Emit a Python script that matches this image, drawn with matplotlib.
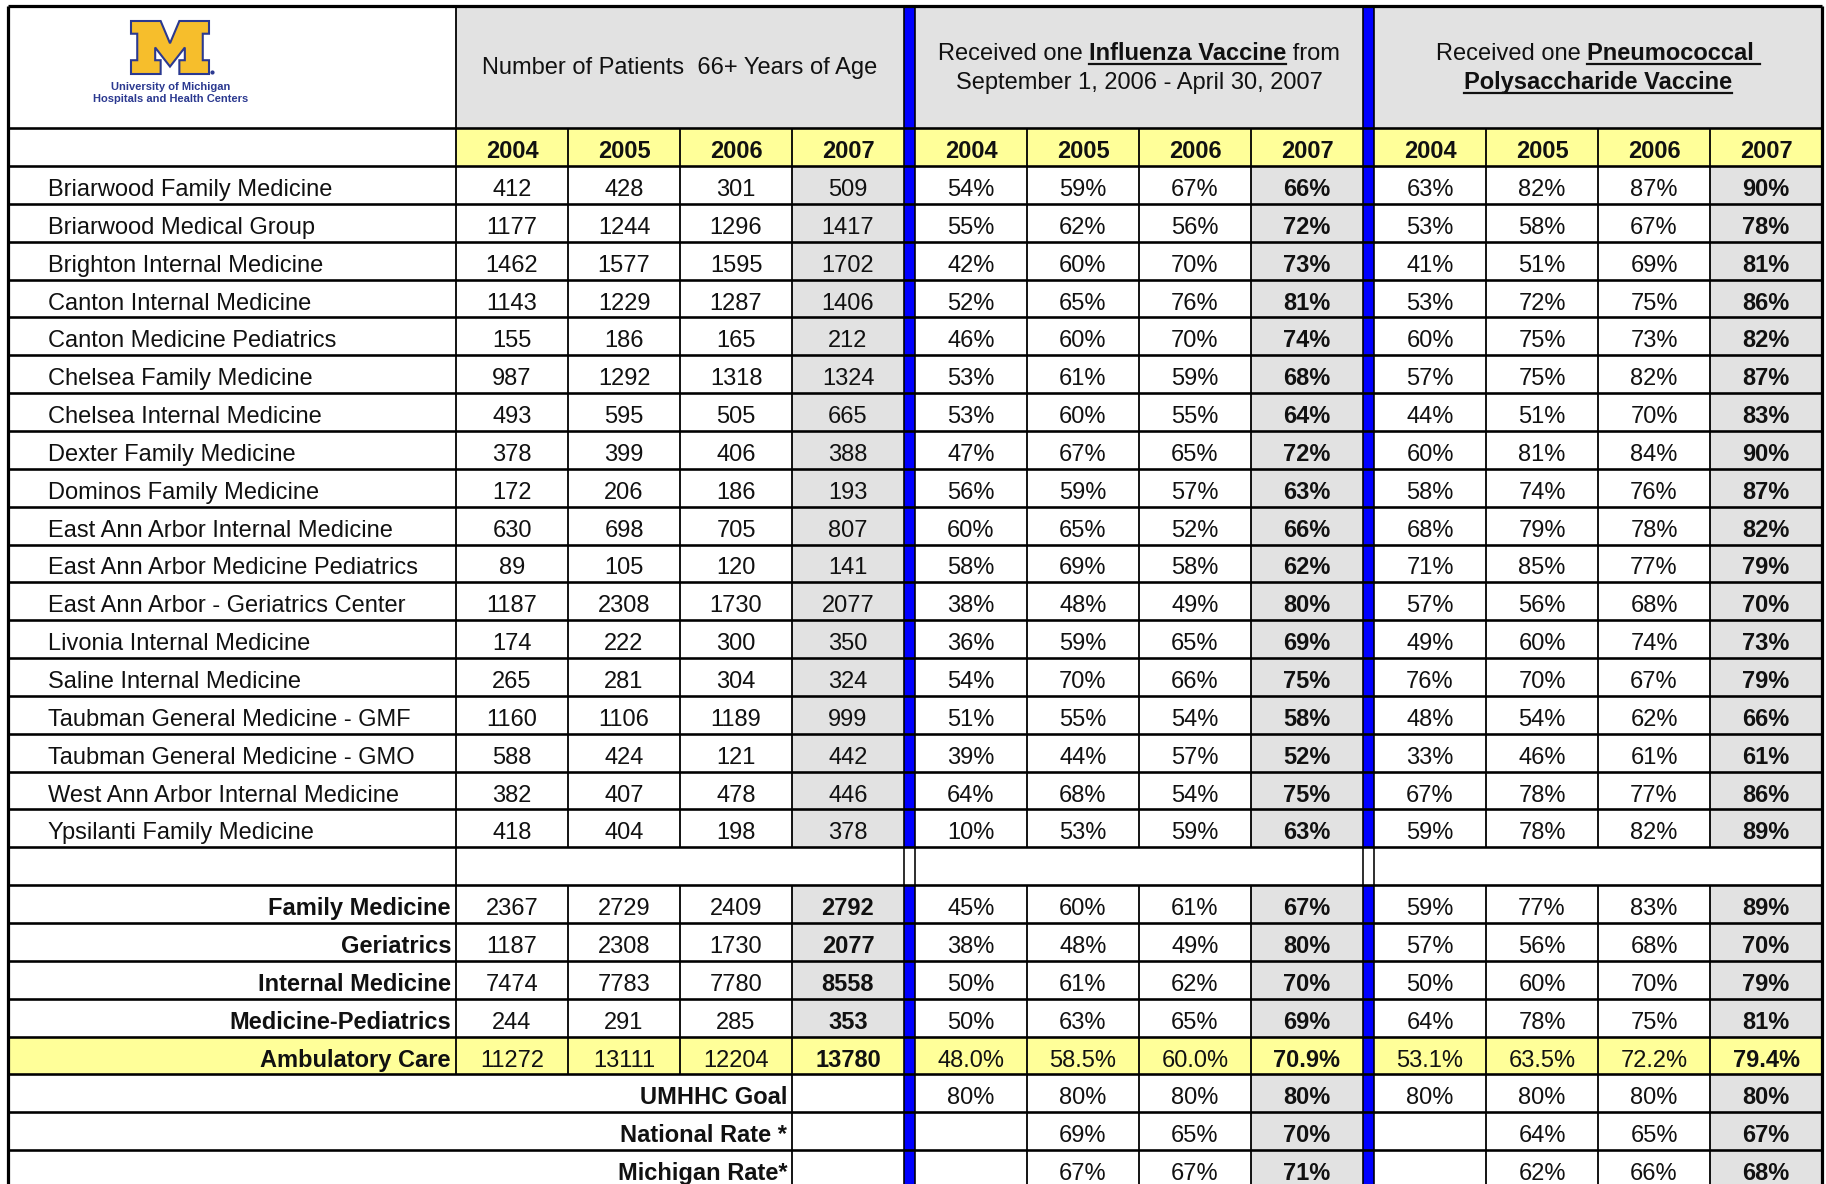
import matplotlib
matplotlib.use("Agg")
import matplotlib.pyplot as plt
from matplotlib.patches import Rectangle, Polygon

plt.rcParams['font.family'] = ['Liberation Sans', 'DejaVu Sans']

# ---------------------------
# Data
# ---------------------------
years = ["2004", "2005", "2006", "2007"]

clinics = [
    "Briarwood Family Medicine",
    "Briarwood Medical Group",
    "Brighton Internal Medicine",
    "Canton Internal Medicine",
    "Canton Medicine Pediatrics",
    "Chelsea Family Medicine",
    "Chelsea Internal Medicine",
    "Dexter Family Medicine",
    "Dominos Family Medicine",
    "East Ann Arbor Internal Medicine",
    "East Ann Arbor Medicine Pediatrics",
    "East Ann Arbor - Geriatrics Center",
    "Livonia Internal Medicine",
    "Saline Internal Medicine",
    "Taubman General Medicine - GMF",
    "Taubman General Medicine - GMO",
    "West Ann Arbor Internal Medicine",
    "Ypsilanti Family Medicine",
]

patients = [
    [412, 428, 301, 509], [1177, 1244, 1296, 1417], [1462, 1577, 1595, 1702],
    [1143, 1229, 1287, 1406], [155, 186, 165, 212], [987, 1292, 1318, 1324],
    [493, 595, 505, 665], [378, 399, 406, 388], [172, 206, 186, 193],
    [630, 698, 705, 807], [89, 105, 120, 141], [1187, 2308, 1730, 2077],
    [174, 222, 300, 350], [265, 281, 304, 324], [1160, 1106, 1189, 999],
    [588, 424, 121, 442], [382, 407, 478, 446], [418, 404, 198, 378],
]

flu = [
    [54, 59, 67, 66], [55, 62, 56, 72], [42, 60, 70, 73], [52, 65, 76, 81],
    [46, 60, 70, 74], [53, 61, 59, 68], [53, 60, 55, 64], [47, 67, 65, 72],
    [56, 59, 57, 63], [60, 65, 52, 66], [58, 69, 58, 62], [38, 48, 49, 80],
    [36, 59, 65, 69], [54, 70, 66, 75], [51, 55, 54, 58], [39, 44, 57, 52],
    [64, 68, 54, 75], [10, 53, 59, 63],
]

pneumo = [
    [63, 82, 87, 90], [53, 58, 67, 78], [41, 51, 69, 81], [53, 72, 75, 86],
    [60, 75, 73, 82], [57, 75, 82, 87], [44, 51, 70, 83], [60, 81, 84, 90],
    [58, 74, 76, 87], [68, 79, 78, 82], [71, 85, 77, 79], [57, 56, 68, 70],
    [49, 60, 74, 73], [76, 70, 67, 79], [48, 54, 62, 66], [33, 46, 61, 61],
    [67, 78, 77, 86], [59, 78, 82, 89],
]

groups = ["Family Medicine", "Geriatrics", "Internal Medicine", "Medicine-Pediatrics"]
group_patients = [[2367, 2729, 2409, 2792], [1187, 2308, 1730, 2077],
                  [7474, 7783, 7780, 8558], [244, 291, 285, 353]]
group_flu = [[45, 60, 61, 67], [38, 48, 49, 80], [50, 61, 62, 70], [50, 63, 65, 69]]
group_pneumo = [[59, 77, 83, 89], [57, 56, 68, 70], [50, 60, 70, 79], [64, 78, 75, 81]]

total_label = "Ambulatory Care"
total_patients = [11272, 13111, 12204, 13780]
total_flu = [48.0, 58.5, 60.0, 70.9]
total_pneumo = [53.1, 63.5, 72.2, 79.4]

bench_labels = ["UMHHC Goal", "National Rate *", "Michigan Rate*"]
bench_flu = [[80, 80, 80, 80], [None, 69, 65, 70], [None, 67, 67, 71]]
bench_pneumo = [[80, 80, 80, 80], [None, 64, 65, 67], [None, 62, 66, 68]]

# ---------------------------
# Layout
# ---------------------------
W, H = 1826, 1184
fig = plt.figure(figsize=(W / 100, H / 100), dpi=100)
ax = fig.add_axes([0, 0, 1, 1])
ax.set_xlim(0, W)
ax.set_ylim(H, 0)
ax.axis("off")

FS = 17
TXT = "#111111"
GRAY = "#E2E2E2"
YELLOW = "#FFFF99"
BLUE = "#0000FF"
NAVY = "#2B3990"
PX = 72 / 100  # points per pixel

X_L, X_LAB, CW, BW = 7.5, 456, 112, 11
blocks = [X_LAB, X_LAB + 4 * CW + BW, X_LAB + 8 * CW + 2 * BW]
X_R = blocks[2] + 4 * CW
bars = [blocks[0] + 4 * CW, blocks[1] + 4 * CW]
Y_T, Y_H, Y_Y, RH = 5.5, 127.7, 166, 37.85
N_ROWS = 27
GAP = 18
BOT = H + 5


def row_top(i):
    return Y_Y + i * RH


def fill(x0, x1, y0, y1, color):
    ax.add_patch(Rectangle((x0, y0), x1 - x0, y1 - y0, facecolor=color,
                           edgecolor="none", zorder=1))


def put(x, y, s, bold=False, ha="center", size=FS, color=TXT):
    ax.text(x, y, s, ha=ha, va="baseline", fontsize=size, color=color,
            fontweight="bold" if bold else "normal", zorder=5)


def cell(b, c, i, s, bold=False):
    put(blocks[b] + (c + 0.5) * CW, row_top(i) + 30, s, bold)


# fills
fill(X_LAB, X_R, Y_T, Y_H, GRAY)
fill(X_LAB, X_R, Y_H, Y_Y, YELLOW)
for i in list(range(GAP)) + list(range(GAP + 1, GAP + 5)):
    for b in range(3):
        fill(blocks[b] + 3 * CW, blocks[b] + 4 * CW, row_top(i), row_top(i + 1), GRAY)
fill(X_L, X_R, row_top(23), row_top(24), YELLOW)
for i in range(24, N_ROWS):
    for b in (1, 2):
        fill(blocks[b] + 3 * CW, blocks[b] + 4 * CW, row_top(i), min(row_top(i + 1), BOT), GRAY)

# blue separators
for bx in bars:
    ax.add_patch(Rectangle((bx, Y_T), BW, row_top(GAP) - Y_T, facecolor=BLUE,
                           edgecolor="none", zorder=2))
    ax.add_patch(Rectangle((bx, row_top(GAP + 1)), BW, BOT - row_top(GAP + 1),
                           facecolor=BLUE, edgecolor="none", zorder=2))
    ax.vlines([bx, bx + BW], Y_T, BOT, color="k", lw=1.6 * PX, zorder=3)

# grid lines
hl = [Y_H, Y_Y] + [row_top(i) for i in range(1, N_ROWS)]
ax.hlines(hl, X_L, X_R, color="k", lw=2.6 * PX, zorder=3)
ax.hlines(Y_T, X_L, X_R, color="k", lw=3.2 * PX, zorder=3)
ax.vlines([X_L, X_R], Y_T, BOT, color="k", lw=3.2 * PX, zorder=3)
ax.vlines(X_LAB, Y_T, row_top(24), color="k", lw=1.8 * PX, zorder=3)
for b in range(3):
    for c in (1, 2, 3):
        x = blocks[b] + c * CW
        ax.vlines(x, Y_H, row_top(GAP), color="k", lw=1.8 * PX, zorder=3)
        end = row_top(24) if (b == 0 and c < 3) else BOT
        ax.vlines(x, row_top(GAP + 1), end, color="k", lw=1.8 * PX, zorder=3)

# ---------------------------
# Logo
# ---------------------------
m_shape = [(0, 0), (0.38, 0), (0.5, 0.42), (0.62, 0), (1, 0), (1, 0.24), (0.92, 0.24),
           (0.92, 0.74), (1, 0.74), (1, 1), (0.62, 1), (0.62, 0.74), (0.69, 0.74),
           (0.69, 0.5), (0.5, 0.86), (0.31, 0.5), (0.31, 0.74), (0.38, 0.74),
           (0.38, 1), (0, 1), (0, 0.74), (0.08, 0.74), (0.08, 0.24), (0, 0.24)]
mx0, my0, mw, mh = 131, 21, 78, 53
ax.add_patch(Polygon([(mx0 + u * mw, my0 + v * mh) for u, v in m_shape], closed=True,
                     facecolor="#F6BE2C", edgecolor=NAVY, lw=1.5, zorder=4))
ax.plot([mx0 + mw + 3], [my0 + mh - 2], marker="o", ms=2, color=NAVY, zorder=4)
ax.text(171, 87, "University of Michigan", ha="center", va="center", fontsize=8,
        fontweight="bold", color=NAVY, zorder=5)
ax.text(171, 99.5, "Hospitals and Health Centers", ha="center", va="center",
        fontsize=8, fontweight="bold", color=NAVY, zorder=5)

# ---------------------------
# Headers
# ---------------------------
renderer = fig.canvas.get_renderer()


def put_runs(runs, cx, y):
    objs = []
    for s, bold, ul in runs:
        t = ax.text(0, y, s, ha="left", va="baseline", fontsize=FS, color=TXT,
                    fontweight="bold" if bold else "normal", zorder=5)
        objs.append((t, ul))
    widths = [t.get_window_extent(renderer).width for t, _ in objs]
    x = cx - sum(widths) / 2
    for (t, ul), w in zip(objs, widths):
        t.set_x(x)
        if ul:
            ax.plot([x, x + w], [y + 4, y + 4], color=TXT, lw=2.2 * PX, zorder=5)
        x += w


put(blocks[0] + 2 * CW, 74, "Number of Patients  66+ Years of Age")
put_runs([("Received one ", False, False), ("Influenza Vaccine", True, True),
          (" from", False, False)], blocks[1] + 2 * CW, 60)
put_runs([("September 1, 2006 - April 30, 2007", False, False)], blocks[1] + 2 * CW, 89)
put_runs([("Received one ", False, False), ("Pneumococcal ", True, True)],
         blocks[2] + 2 * CW, 60)
put_runs([("Polysaccharide Vaccine", True, True)], blocks[2] + 2 * CW, 89)

for b in range(3):
    for c, yr in enumerate(years):
        put(blocks[b] + (c + 0.5) * CW, Y_H + 30, yr, bold=True)

# ---------------------------
# Body
# ---------------------------
for i, name in enumerate(clinics):
    put(48, row_top(i) + 30, name, ha="left")
    for c in range(4):
        cell(0, c, i, str(patients[i][c]))
        cell(1, c, i, f"{flu[i][c]}%", bold=(c == 3))
        cell(2, c, i, f"{pneumo[i][c]}%", bold=(c == 3))

for k, g in enumerate(groups):
    i = GAP + 1 + k
    put(X_LAB - 5, row_top(i) + 30, g, bold=True, ha="right")
    for c in range(4):
        cell(0, c, i, str(group_patients[k][c]), bold=(c == 3))
        cell(1, c, i, f"{group_flu[k][c]}%", bold=(c == 3))
        cell(2, c, i, f"{group_pneumo[k][c]}%", bold=(c == 3))

i = 23
put(X_LAB - 5, row_top(i) + 30, total_label, bold=True, ha="right")
for c in range(4):
    cell(0, c, i, str(total_patients[c]), bold=(c == 3))
    cell(1, c, i, f"{total_flu[c]:.1f}%", bold=(c == 3))
    cell(2, c, i, f"{total_pneumo[c]:.1f}%", bold=(c == 3))

for k, lab in enumerate(bench_labels):
    i = 24 + k
    put(blocks[0] + 3 * CW - 5, row_top(i) + 30, lab, bold=True, ha="right")
    for c in range(4):
        if bench_flu[k][c] is not None:
            cell(1, c, i, f"{bench_flu[k][c]}%", bold=(c == 3))
        if bench_pneumo[k][c] is not None:
            cell(2, c, i, f"{bench_pneumo[k][c]}%", bold=(c == 3))

fig.savefig("out.png", dpi=100)
